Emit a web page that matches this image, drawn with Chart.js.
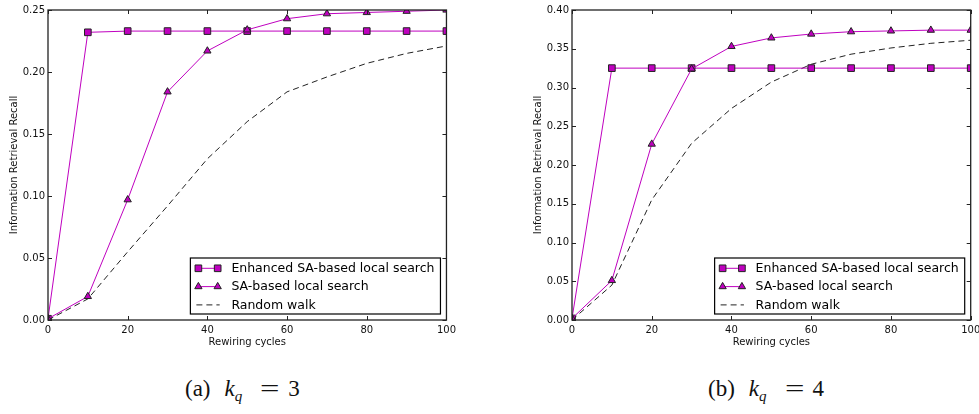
<!DOCTYPE html>
<html>
<head>
<meta charset="utf-8">
<script src="https://cdn.jsdelivr.net/npm/chart.js@4.4.1/dist/chart.umd.min.js"></script>
<style>
  html, body { margin:0; padding:0; background:#fff; }
  body { width:979px; height:414px; position:relative; overflow:hidden; }
  .box { position:absolute; top:0; height:355px; }
  .cap { position:absolute; top:376px; font-family:"Liberation Serif","DejaVu Serif",serif; font-size:23px; color:#111; white-space:nowrap; }
  .cap i { font-style:italic; }
  .cap sub { font-size:15px; font-style:italic; vertical-align:-5px; line-height:0; }
  .cap .k { margin-left:14px; }
  .cap .eq { margin-left:18px; display:inline-block; transform:scaleX(1.5); transform-origin:left center; }
  .cap .num { margin-left:15px; }
</style>
</head>
<body>
<div class="box" style="left:0; width:460px;"><canvas id="c1"></canvas></div>
<div class="box" style="left:524px; width:470px;"><canvas id="c2"></canvas></div>
<div class="cap" style="left:185px;">(a)<i class="k">k</i><sub>q</sub><span class="eq">=</span><span class="num">3</span></div>
<div class="cap" style="left:708px;">(b)<i class="k">k</i><sub>q</sub><span class="eq">=</span><span class="num">4</span></div>
<script>
// ---- data ----
const rewiringCycles = [0, 10, 20, 30, 40, 50, 60, 70, 80, 90, 100];

const enhancedK3 = [0.001, 0.232, 0.233, 0.233, 0.233, 0.233, 0.233, 0.233, 0.233, 0.233, 0.233];
const saK3       = [0.001, 0.019, 0.097, 0.184, 0.217, 0.234, 0.243, 0.247, 0.248, 0.249, 0.250];
const randomK3   = [0.000, 0.017, 0.055, 0.092, 0.130, 0.160, 0.184, 0.196, 0.207, 0.215, 0.221];

const enhancedK4 = [0.002, 0.325, 0.325, 0.325, 0.325, 0.325, 0.325, 0.325, 0.325, 0.325, 0.325];
const saK4       = [0.002, 0.051, 0.227, 0.324, 0.353, 0.364, 0.369, 0.372, 0.373, 0.374, 0.374];
const randomK4   = [0.000, 0.045, 0.155, 0.228, 0.273, 0.307, 0.330, 0.343, 0.351, 0.357, 0.361];

const seriesLabels = ["Enhanced SA-based local search", "SA-based local search", "Random walk"];
const xTitle = "Rewiring cycles";
const yTitle = "Information Retrieval Recall";
const yMaxK3 = 0.25, yMaxK4 = 0.40, yStep = 0.05;
const xMax = 100, xStep = 20;

// ---- styling ----
const MAG = '#bf00bf';
const FONT = '"DejaVu Sans", sans-serif';
Chart.defaults.font.family = FONT;
Chart.defaults.color = '#111';

const frameTicks = {
  id: 'frameTicks',
  afterDraw(chart) {
    const ctx = chart.ctx;
    const {left, right, top, bottom} = chart.chartArea;
    const xs = chart.scales.x, ys = chart.scales.y;
    ctx.save();
    ctx.strokeStyle = '#222';
    ctx.lineWidth = 1;
    const L = 4;
    ctx.beginPath();
    xs.ticks.forEach(t => {
      const px = Math.round(xs.getPixelForValue(t.value)) + 0.5;
      ctx.moveTo(px, bottom); ctx.lineTo(px, bottom - L);
      ctx.moveTo(px, top); ctx.lineTo(px, top + L);
    });
    ys.ticks.forEach(t => {
      const py = Math.round(ys.getPixelForValue(t.value)) + 0.5;
      ctx.moveTo(left, py); ctx.lineTo(left + L, py);
      ctx.moveTo(right, py); ctx.lineTo(right - L, py);
    });
    ctx.stroke();
    ctx.lineWidth = 1.3;
    ctx.strokeRect(left, top, right - left, bottom - top);
    ctx.restore();

    // legend (lower right, inside the axes)
    ctx.save();
    ctx.font = '12.5px ' + FONT;
    let tw = 0;
    chart.data.datasets.forEach(d => { tw = Math.max(tw, ctx.measureText(d.label).width); });
    const bw = 41 + tw + 6, bh = 56;
    const bx = right - 6 - bw, by = bottom - 6 - bh;
    ctx.fillStyle = '#fff';
    ctx.fillRect(bx, by, bw, bh);
    ctx.strokeStyle = '#000';
    ctx.lineWidth = 1.2;
    ctx.strokeRect(bx, by, bw, bh);
    chart.data.datasets.forEach((d, i) => {
      const cy = by + 10.3 + i * 18.3;
      const x1 = bx + 8, x2 = bx + 27.3;
      ctx.save();
      ctx.strokeStyle = d.borderColor;
      ctx.lineWidth = d.borderWidth;
      ctx.setLineDash(d.borderDash || []);
      ctx.beginPath();
      if (d.borderDash) { ctx.moveTo(x1 - 2, cy); ctx.lineTo(x2 + 2, cy); }
      else { ctx.moveTo(x1, cy); ctx.lineTo(x2, cy); }
      ctx.stroke();
      ctx.restore();
      if (d.pointRadius > 0) {
        [x1, x2].forEach(px => {
          ctx.fillStyle = d.pointBackgroundColor;
          ctx.strokeStyle = d.pointBorderColor;
          ctx.lineWidth = d.pointBorderWidth;
          ctx.beginPath();
          if (d.pointStyle === 'rect') {
            const s = d.pointRadius * Math.SQRT1_2;
            ctx.rect(px - s, cy - s, 2 * s, 2 * s);
          } else {
            const r = d.pointRadius;
            ctx.moveTo(px, cy - r);
            ctx.lineTo(px + r * 0.866, cy + r * 0.5);
            ctx.lineTo(px - r * 0.866, cy + r * 0.5);
            ctx.closePath();
          }
          ctx.fill(); ctx.stroke();
        });
      }
      ctx.fillStyle = '#000';
      ctx.textBaseline = 'middle';
      ctx.textAlign = 'left';
      ctx.fillText(d.label, bx + 41, cy + 0.5);
    });
    ctx.restore();
  }
};

function pts(arr) { return rewiringCycles.map((x, i) => ({x: x, y: arr[i]})); }

function makeChart(id, enh, sa, rnd, yMax, padRight) {
  return new Chart(document.getElementById(id), {
    type: 'line',
    data: {
      datasets: [
        { label: seriesLabels[0], data: pts(enh), borderColor: MAG, borderWidth: 1,
          pointStyle: 'rect', pointRadius: 4.7, pointBackgroundColor: MAG, pointBorderColor: '#222',
          pointBorderWidth: 1, tension: 0, order: 1 },
        { label: seriesLabels[1], data: pts(sa), borderColor: MAG, borderWidth: 1,
          pointStyle: 'triangle', pointRadius: 4.2, pointBackgroundColor: MAG, pointBorderColor: '#222',
          pointBorderWidth: 1, tension: 0, order: 0 },
        { label: seriesLabels[2], data: pts(rnd), borderColor: '#222', borderWidth: 1,
          borderDash: [6, 4], pointRadius: 0, tension: 0, order: 2 }
      ]
    },
    options: {
      responsive: true, maintainAspectRatio: false, animation: false,
      layout: { padding: { top: 10, right: padRight, left: 0, bottom: 0 } },
      plugins: { legend: { display: false }, tooltip: { enabled: false } },
      scales: {
        x: {
          type: 'linear', min: 0, max: xMax,
          grid: { display: false, drawTicks: false },
          border: { display: false },
          ticks: { stepSize: xStep, padding: 4, font: { size: 10 }, maxRotation: 0 },
          title: { display: true, text: xTitle, font: { size: 10 }, padding: { top: 0, bottom: 7 } },
          afterFit(s) { s.height = 35; }
        },
        y: {
          min: 0, max: yMax,
          grid: { display: false, drawTicks: false },
          border: { display: false },
          ticks: { stepSize: yStep, padding: 3, font: { size: 10 }, callback: v => v.toFixed(2) },
          title: { display: true, text: yTitle, font: { size: 10 }, padding: { top: 8, bottom: 0 } },
          afterFit(s) { s.width = 48; }
        }
      }
    },
    plugins: [frameTicks]
  });
}

makeChart('c1', enhancedK3, saK3, randomK3, yMaxK3, 13.3);
makeChart('c2', enhancedK4, saK4, randomK4, yMaxK4, 23.3);
</script>
</body>
</html>
